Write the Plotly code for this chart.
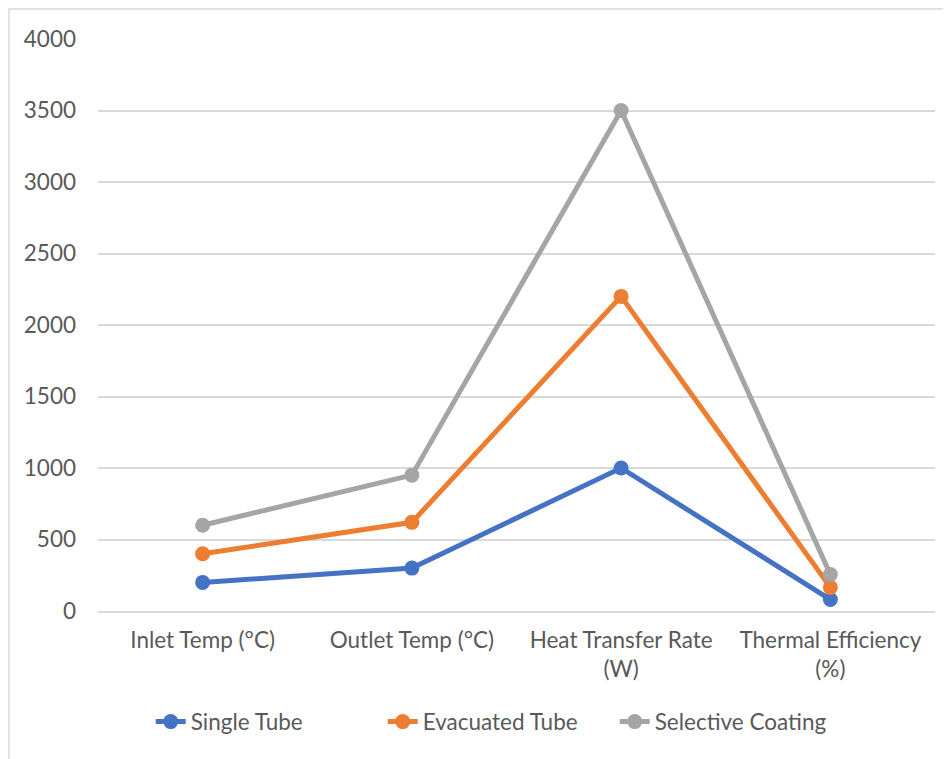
import plotly.graph_objects as go

categories = ["Inlet Temp (°C)", "Outlet Temp (°C)", "Heat Transfer Rate<br>(W)", "Thermal Efficiency<br>(%)"]
single_tube = [200, 300, 1000, 80]
evacuated_tube = [400, 620, 2200, 165]
selective_coating = [600, 950, 3500, 255]
y_ticks = [0, 500, 1000, 1500, 2000, 2500, 3000, 3500, 4000]

series = [
    ("Single Tube", single_tube, "#4472C4"),
    ("Evacuated Tube", evacuated_tube, "#ED7D31"),
    ("Selective Coating", selective_coating, "#A5A5A5"),
]

fig = go.Figure()
for name, vals, color in series:
    fig.add_trace(go.Scatter(
        x=categories, y=vals, name=name, mode="lines+markers",
        line=dict(color=color, width=5),
        marker=dict(color=color, size=15),
    ))

font_family = "Lato, Open Sans, sans-serif"
fs = 22.5
fig.update_layout(
    width=943, height=751,
    margin=dict(l=90, r=16, t=31, b=148),
    paper_bgcolor="white", plot_bgcolor="white",
    font=dict(family=font_family, size=fs, color="#595959"),
    showlegend=True,
    legend=dict(orientation="h", x=0.063, xanchor="left", y=-0.194, yanchor="middle",
                font=dict(size=fs, color="#595959"), tracegroupgap=0,
                entrywidth=187, entrywidthmode="pixels"),
    xaxis=dict(
        type="category", showgrid=False, showline=True, linecolor="#D9D9D9", linewidth=1.5,
        ticks="", tickfont=dict(size=fs, color="#595959"), range=[-0.5, 3.5], fixedrange=True,
        ticklabelstandoff=8,
    ),
    yaxis=dict(
        range=[0, 4000], tickvals=y_ticks, showgrid=True, gridcolor="#D9D9D9", gridwidth=1.5,
        zeroline=False, showline=False, ticks="", ticklabelstandoff=21,
        tickfont=dict(size=fs, color="#595959"), fixedrange=True,
    ),
    shapes=[dict(type="rect", xref="paper", yref="paper", x0=-0.1063, x1=1.1, y0=-0.4, y1=1.0524,
                 line=dict(color="#D9D9D9", width=1.5), fillcolor="rgba(0,0,0,0)", layer="below")],
    hovermode=False,
)

fig.write_html("out.html")
